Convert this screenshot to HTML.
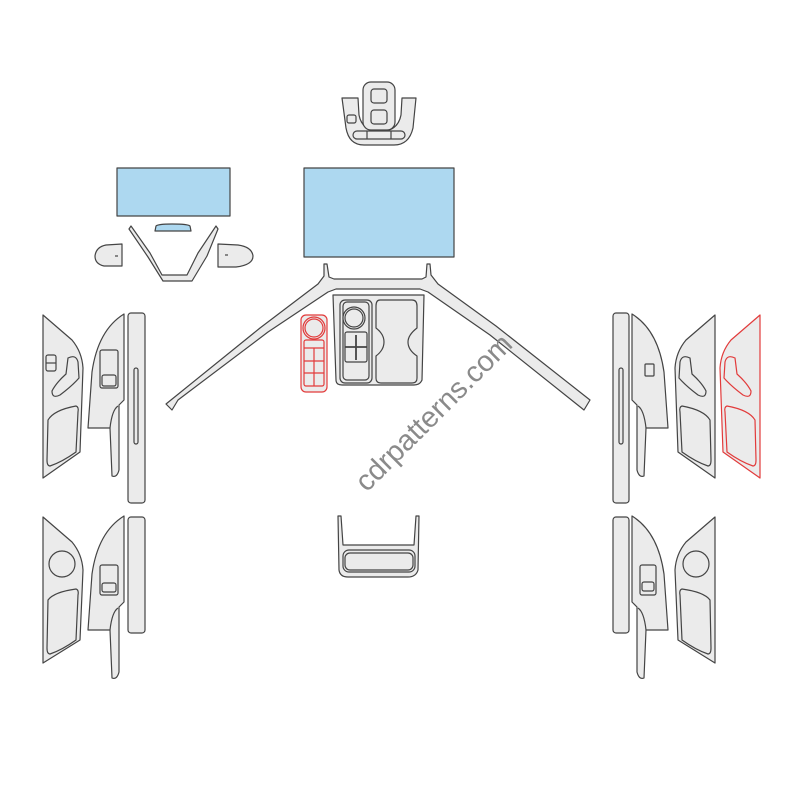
<!DOCTYPE html>
<html><head><meta charset="utf-8"><style>
html,body{margin:0;padding:0;background:#fff;}
svg{display:block;}
</style></head><body>
<svg width="800" height="800" viewBox="0 0 800 800" xmlns="http://www.w3.org/2000/svg">
<defs>
<g id="panelA">
  <path d="M43,315 L72,340 Q82,352 83,368 L80,452 L43,478 Z"/>
  <path d="M68,358 Q76,354 78,362 L79,378 Q72,386 60,395 Q52,399 52,391 Q56,383 66,374 Z"/>
  <path d="M48,420 Q54,410 76,406 Q79,407 78,412 L76,452 Q62,462 50,466 Q47,466 47,460 Z"/>
</g>
<g id="panelB">
  <path d="M124,314 L124,400 L119,405 L119,470 Q117,478 112,476 L110,428 L88,428 L92,372 Q98,330 124,314 Z"/>
  <path d="M118,406 Q112,410 110,428"/>
</g>
<g id="panelAc">
  <path d="M43,517 L72,542 Q82,554 83,570 L80,640 L43,663 Z"/>
  <circle cx="62" cy="564" r="13"/>
  <path d="M48,600 Q54,592 76,589 Q79,590 78,595 L76,640 Q62,650 50,654 Q47,654 47,648 Z"/>
</g>
<g id="panelBc">
  <path d="M124,516 L124,602 L119,607 L119,672 Q117,680 112,678 L110,630 L88,630 L92,574 Q98,532 124,516 Z"/>
  <path d="M118,608 Q112,612 110,630"/>
</g>
</defs>

<g fill="#ebebeb" stroke="#444" stroke-width="1.2" stroke-linejoin="round">
  <!-- top cluster -->
  <path d="M342,98 L358,98 L359,115 Q362,131 380,132 Q398,131 401,115 L402,98 L416,98 L413,128 Q409,145 394,145 L364,145 Q349,145 346,128 Z"/>
  <rect x="363" y="82" width="32" height="48" rx="8"/>
  <rect x="371" y="89" width="16" height="14" rx="3"/>
  <rect x="371" y="110" width="16" height="14" rx="3"/>
  <rect x="347" y="115" width="9" height="8" rx="2"/>
  <rect x="353" y="131" width="52" height="8" rx="4"/>
  <line x1="367" y1="131" x2="367" y2="139"/><line x1="391" y1="131" x2="391" y2="139"/>

  <!-- screens -->
  <rect x="117" y="168" width="113" height="48" fill="#add8f0"/>
  <path d="M155,231 L156,226 Q158,224 172,224 Q188,224 190,226 L191,231 Z" fill="#add8f0"/>
  <rect x="304" y="168" width="150" height="89" fill="#add8f0"/>

  <!-- left small trims -->
  <path d="M122,244 L122,266 L104,266 Q95,264 95,256 Q96,247 106,245 Z"/>
  <line x1="115" y1="256" x2="118" y2="256"/>
  <path d="M218,244 L218,267 L236,267 Q253,265 253,256 Q252,247 238,245 Z"/>
  <line x1="225" y1="255" x2="228" y2="255"/>
  <path d="M129,229 L131,226 L150,253 L162,275 L187,275 L198,253 L216,226 L218,229 L207,256 L192,281 L163,281 L148,257 Z"/>

  <!-- dashboard trim -->
  <path d="M324,264 L327,264 L329,277 L334,279 L422,279 L426,277 L427,264 L430,264 L431,275 L438,284 L496,326 L590,400 L584,410 L490,335 L428,292 L420,289 L336,289 L328,292 L268,332 L178,400 L172,410 L166,404 L260,328 L318,284 L324,276 Z"/>

  <!-- console -->
  <path d="M333,295 L424,295 L422,380 Q420,385 414,385 L342,385 Q336,385 336,380 Z"/>
  <rect x="340" y="300" width="32" height="83" rx="5"/>
  <rect x="343" y="302" width="26" height="78" rx="4"/>
  <circle cx="354" cy="318" r="11"/><circle cx="354" cy="318" r="9"/>
  <rect x="345" y="332" width="22" height="30" rx="2"/>
  <line x1="356" y1="335" x2="356" y2="360" stroke-width="1.8"/>
  <line x1="345" y1="347" x2="367" y2="347" stroke-width="1.8"/>
  <path d="M380,300 L412,300 Q417,300 417,306 L417,328 Q408,335 408,342 Q408,350 417,356 L417,378 Q417,383 412,383 L381,383 Q376,383 376,378 L376,356 Q384,350 384,342 Q384,334 376,328 L376,306 Q376,300 380,300 Z"/>

  <!-- bottom console piece -->
  <path d="M338,516 L341,516 L343,545 L414,545 L416,516 L419,516 L418,570 Q416,577 408,577 L348,577 Q340,577 339,570 Z"/>
  <rect x="343" y="550" width="72" height="22" rx="6"/>
  <rect x="345" y="553" width="68" height="17" rx="5"/>

  <!-- left doors -->
  <use href="#panelA"/>
  <rect x="46" y="355" width="10" height="16" rx="2"/>
  <line x1="46" y1="363" x2="56" y2="363"/>
  <use href="#panelB"/>
  <rect x="128" y="313" width="17" height="190" rx="3"/>
  <rect x="134" y="368" width="4" height="76" rx="2"/>
  <use href="#panelAc"/>
  <use href="#panelBc"/>
  <rect x="128" y="517" width="17" height="116" rx="3"/>

  <!-- right doors -->
  <g transform="translate(756,0) scale(-1,1)">
    <use href="#panelB"/><use href="#panelBc"/>
  </g>
  <g transform="translate(758,0) scale(-1,1)">
    <use href="#panelA"/>
    <use href="#panelAc"/>
  </g>
  <rect x="613" y="313" width="16" height="190" rx="3"/>
  <rect x="619" y="368" width="4" height="76" rx="2"/>
  <rect x="613" y="517" width="16" height="116" rx="3"/>
</g>

<!-- small switch details -->
<g fill="#ebebeb" stroke="#444" stroke-width="1.2">
  <rect x="100" y="350" width="18" height="38" rx="2"/>
  <rect x="102" y="375" width="14" height="11" rx="2"/>
  <rect x="100" y="565" width="18" height="30" rx="2"/>
  <rect x="102" y="583" width="14" height="9" rx="2"/>
  <rect x="645" y="364" width="9" height="12" rx="1"/>
  <rect x="640" y="565" width="16" height="30" rx="2"/>
  <rect x="642" y="582" width="12" height="9" rx="2"/>
</g>

<!-- red pieces -->
<g fill="#ebebeb" stroke="#e23b3b" stroke-width="1.2" stroke-linejoin="round">
  <rect x="301" y="315" width="26" height="77" rx="5"/>
  <circle cx="314" cy="328" r="11"/><circle cx="314" cy="328" r="9"/>
  <rect x="304" y="340" width="20" height="46" rx="2"/>
  <line x1="314" y1="348" x2="314" y2="386"/>
  <line x1="304" y1="348" x2="324" y2="348"/>
  <line x1="304" y1="361" x2="324" y2="361"/>
  <line x1="304" y1="373" x2="324" y2="373"/>
  <g transform="translate(803,0) scale(-1,1)">
    <path d="M43,315 L72,340 Q82,352 83,368 L80,452 L43,478 Z"/>
    <path d="M68,358 Q76,354 78,362 L79,378 Q72,386 60,395 Q52,399 52,391 Q56,383 66,374 Z"/>
    <path d="M48,420 Q54,410 76,406 Q79,407 78,412 L76,452 Q62,462 50,466 Q47,466 47,460 Z"/>
  </g>
</g>

<text x="435" y="414" transform="rotate(-45 435 414)" text-anchor="middle" dominant-baseline="middle" font-family="Liberation Sans, sans-serif" font-size="29" fill="#8a8a8a">cdrpatterns.com</text>
</svg>
</body></html>
